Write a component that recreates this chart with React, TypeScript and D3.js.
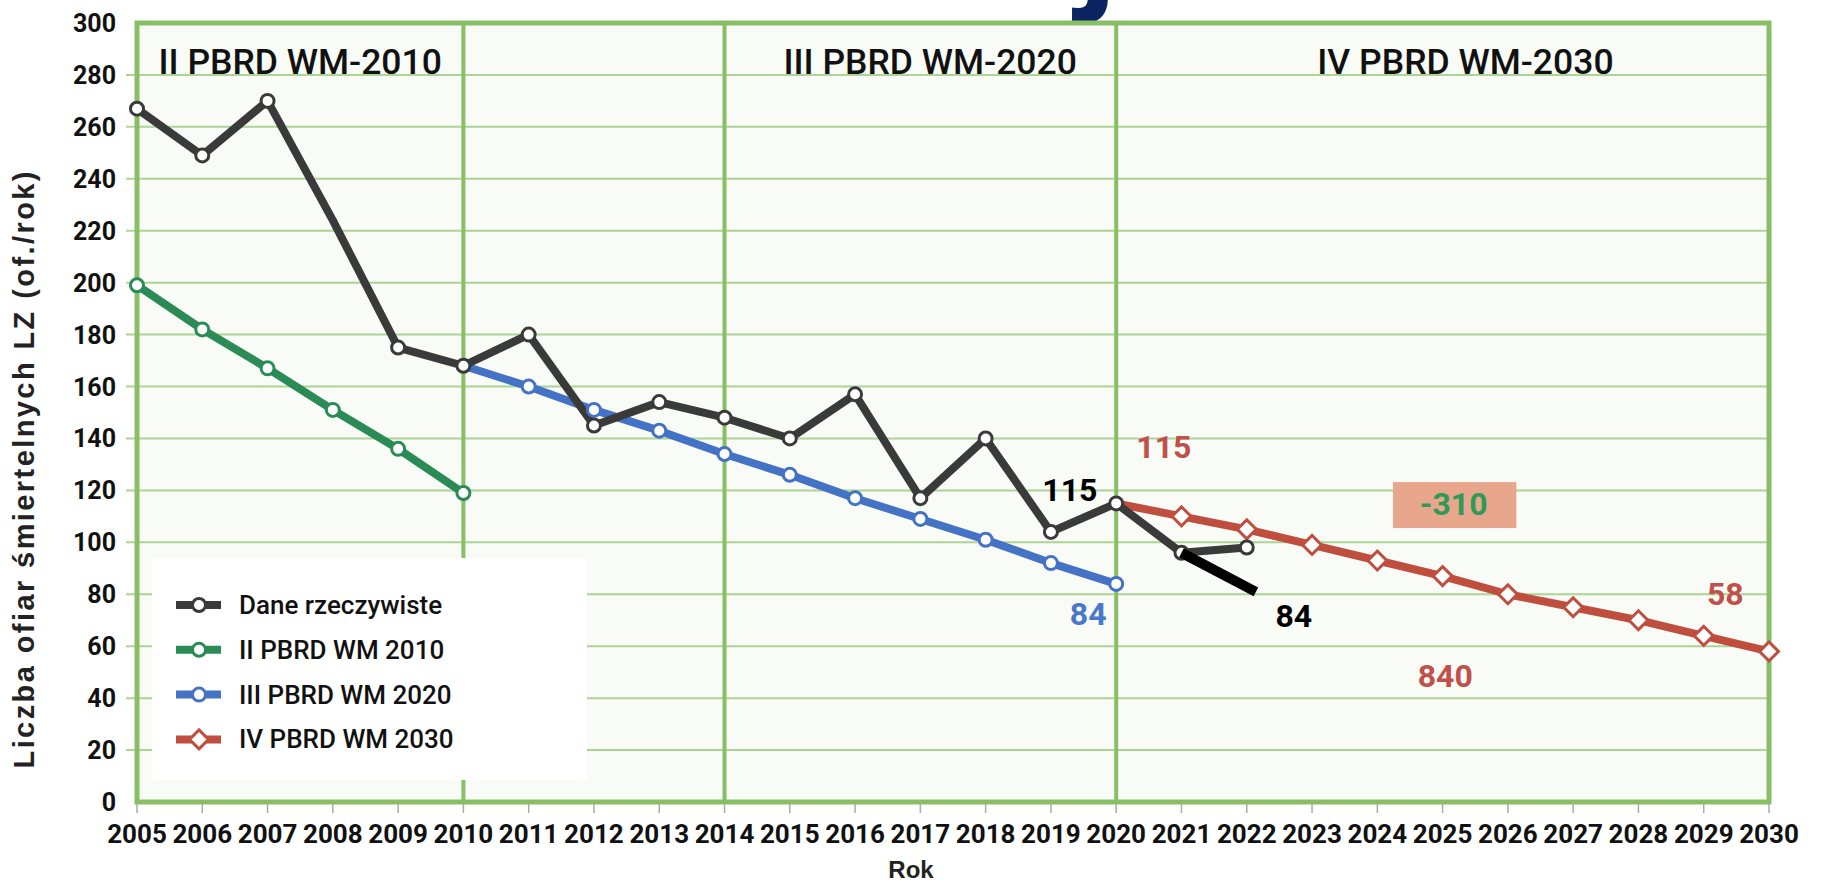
import React from 'react';
import * as d3 from 'd3';

// --- data ---
const yearTicks = d3.range(2005, 2031);
const valueTicks = d3.range(0, 301, 20);

const actualYears = d3.range(2005, 2023);
const actualValues = [267, 249, 270, 224, 175, 168, 180, 145, 154, 148, 140, 157, 117, 140, 104, 115, 96, 98];
const actualNoMarker = [2008];

const plan2010Years = d3.range(2005, 2011);
const plan2010Values = [199, 182, 167, 151, 136, 119];

const plan2020Years = d3.range(2010, 2021);
const plan2020Values = [168, 160, 151, 143, 134, 126, 117, 109, 101, 92, 84];

const plan2030Years = d3.range(2020, 2031);
const plan2030Values = [115, 110, 105, 99, 93, 87, 80, 75, 70, 64, 58];

const periodDividers = [2010, 2014, 2020];
const periodTitles = ['II PBRD WM-2010', 'III PBRD WM-2020', 'IV PBRD WM-2030'];
const periodTitleYears = [2007.5, 2017.15, 2025.35];

const legendLabels = ['Dane rzeczywiste', 'II PBRD WM 2010', 'III PBRD WM 2020', 'IV PBRD WM 2030'];

// value callouts: [text, year, value, colour key]
const callouts = [
  ['115', 2019.29, 116, 'black'],
  ['115', 2020.73, 132.5, 'red'],
  ['84', 2019.57, 68, 'blue'],
  ['84', 2022.72, 67.4, 'black'],
  ['58', 2029.33, 76, 'red'],
  ['840', 2025.04, 44.3, 'red'],
];

const C = {
  black: '#3a3a3a',
  green: '#2a8b57',
  blue: '#4472c4',
  red: '#bf4e3e',
  grid: '#acd494',
  frame: '#88bf66',
  bg: '#f9fbf7',
};
const textColor = { black: '#000', red: '#c0504a', blue: '#4a78c8' };

const font = 'Roboto, "Noto Sans", sans-serif';

export default function App() {
  const width = 1824;
  const height = 885;

  const x = d3.scaleLinear().domain([2005, 2030]).range([137, 1769]);
  const y = d3.scaleLinear().domain([0, 300]).range([802, 23]);

  const line = d3.line<[number, number]>()
    .x(d => x(d[0]))
    .y(d => y(d[1]));

  const zip = (a: number[], b: number[]) => a.map((v, i) => [v, b[i]] as [number, number]);

  const series = [
    { key: 'green', pts: zip(plan2010Years, plan2010Values), marker: 'circle', skipFirst: false },
    { key: 'blue', pts: zip(plan2020Years, plan2020Values), marker: 'circle', skipFirst: true },
    { key: 'red', pts: zip(plan2030Years, plan2030Values), marker: 'diamond', skipFirst: true },
    { key: 'black', pts: zip(actualYears, actualValues), marker: 'circle', skipFirst: false },
  ];

  const diamond = d3.symbol().type(d3.symbolSquare).size(180)() as string;

  const marker = (type: string, color: string, cx: number, cy: number, key: string) =>
    type === 'circle'
      ? <circle key={key} cx={cx} cy={cy} r={6.5} fill="#fff" stroke={color} strokeWidth={3} />
      : <path key={key} d={diamond} transform={`translate(${cx},${cy}) rotate(45)`} fill="#fff" stroke={color} strokeWidth={3} />;

  const [x0, x1] = x.range();
  const [yb, yt] = y.range();

  // legend placement
  const lg = { left: 152, top: y(94), right: 587, bottom: y(8.5) };
  const legendKeys = ['black', 'green', 'blue', 'red'];

  // pointer from 2021 actual value
  const pStart = [x(2021), y(96)];
  const pEnd = [x(2022.14), y(80.9)];

  return (
    <svg width={width} height={height} style={{ position: 'absolute', left: 0, top: 0, background: '#fff' }} fontFamily={font}>
      {/* cropped heading glyph at the top edge */}
      <text x={1079} y={-7} fontSize={142} fontWeight={700} fill="#0c2462">j</text>

      <rect x={x0} y={yt} width={x1 - x0} height={yb - yt} fill={C.bg} />

      {valueTicks.filter(v => v > 0 && v < 300).map(v => (
        <line key={v} x1={126} x2={x1} y1={y(v)} y2={y(v)} stroke={C.grid} strokeWidth={2} />
      ))}

      {periodDividers.map(yr => (
        <line key={yr} x1={x(yr)} x2={x(yr)} y1={yt} y2={yb} stroke={C.frame} strokeWidth={4} />
      ))}

      <rect x={lg.left} y={lg.top} width={lg.right - lg.left} height={lg.bottom - lg.top} fill="#fff" />

      <rect x={x0} y={yt} width={x1 - x0} height={yb - yt} fill="none" stroke={C.frame} strokeWidth={5} />

      {periodTitles.map((t, i) => (
        <text key={t} x={x(periodTitleYears[i])} y={74} textAnchor="middle" fontSize={35.5} fontWeight={500} fill="#111">{t}</text>
      ))}

      {/* x ticks */}
      {yearTicks.map(yr => (
        <g key={yr}>
          <line x1={x(yr)} x2={x(yr)} y1={yb + 2} y2={yb + 11} stroke="#aaa" strokeWidth={1.5} />
          <text x={x(yr)} y={843} textAnchor="middle" fontSize={26} fontWeight={700} fill="#111">{yr}</text>
        </g>
      ))}

      {valueTicks.map(v => (
        <text key={v} x={116} y={y(v) + 9} textAnchor="end" fontSize={25} fontWeight={700} fill="#111">{v}</text>
      ))}

      <text x={911} y={878} textAnchor="middle" fontSize={24} fontWeight={700} fill="#222"
        fontFamily='"Liberation Sans", Arial, sans-serif'>Rok</text>
      <text transform={`translate(34,470) rotate(-90)`} textAnchor="middle" fontSize={29} fontWeight={700} fill="#222"
        fontFamily='"Liberation Sans", Arial, sans-serif' textLength={597} lengthAdjust="spacing">
        Liczba ofiar śmiertelnych LZ (of./rok)
      </text>

      {/* series */}
      {series.map(s => (
        <path key={s.key} d={line(s.pts) as string} fill="none" stroke={(C as any)[s.key]} strokeWidth={8} strokeLinejoin="round" />
      ))}
      {series.map(s =>
        s.pts
          .filter((p, i) => !(s.skipFirst && i === 0) && !(s.key === 'black' && actualNoMarker.includes(p[0])))
          .map(p => marker(s.marker, (C as any)[s.key], x(p[0]), y(p[1]), `${s.key}-${p[0]}`))
      )}

      {/* pointer to 2021 */}
      <line x1={pStart[0]} y1={pStart[1]} x2={pEnd[0]} y2={pEnd[1]} stroke="#000" strokeWidth={10} />

      {callouts.map(([t, yr, v, c], i) => (
        <text key={i} x={x(yr as number)} y={y(v as number)} textAnchor="middle" fontSize={32} fontWeight={700}
          fill={(textColor as any)[c as string]}>{t}</text>
      ))}

      {/* -310 box */}
      <rect x={x(2024.24)} y={y(123.2)} width={x(2026.13) - x(2024.24)} height={y(105.5) - y(123.2)} fill="#e8a68c" />
      <text x={x(2025.17)} y={y(110.5)} textAnchor="middle" fontSize={32} fontWeight={700} fill="#2e9a58">-310</text>

      {/* legend */}
      {legendLabels.map((label, i) => {
        const cy = 605 + i * 44.8;
        const key = legendKeys[i];
        const col = (C as any)[key];
        return (
          <g key={label}>
            <line x1={176} x2={221} y1={cy} y2={cy} stroke={col} strokeWidth={8} />
            {marker(key === 'red' ? 'diamond' : 'circle', col, 199, cy, 'lm' + i)}
            <text x={239} y={cy + 9} fontSize={26} fontWeight={500} fill="#111">{label}</text>
          </g>
        );
      })}
    </svg>
  );
}
